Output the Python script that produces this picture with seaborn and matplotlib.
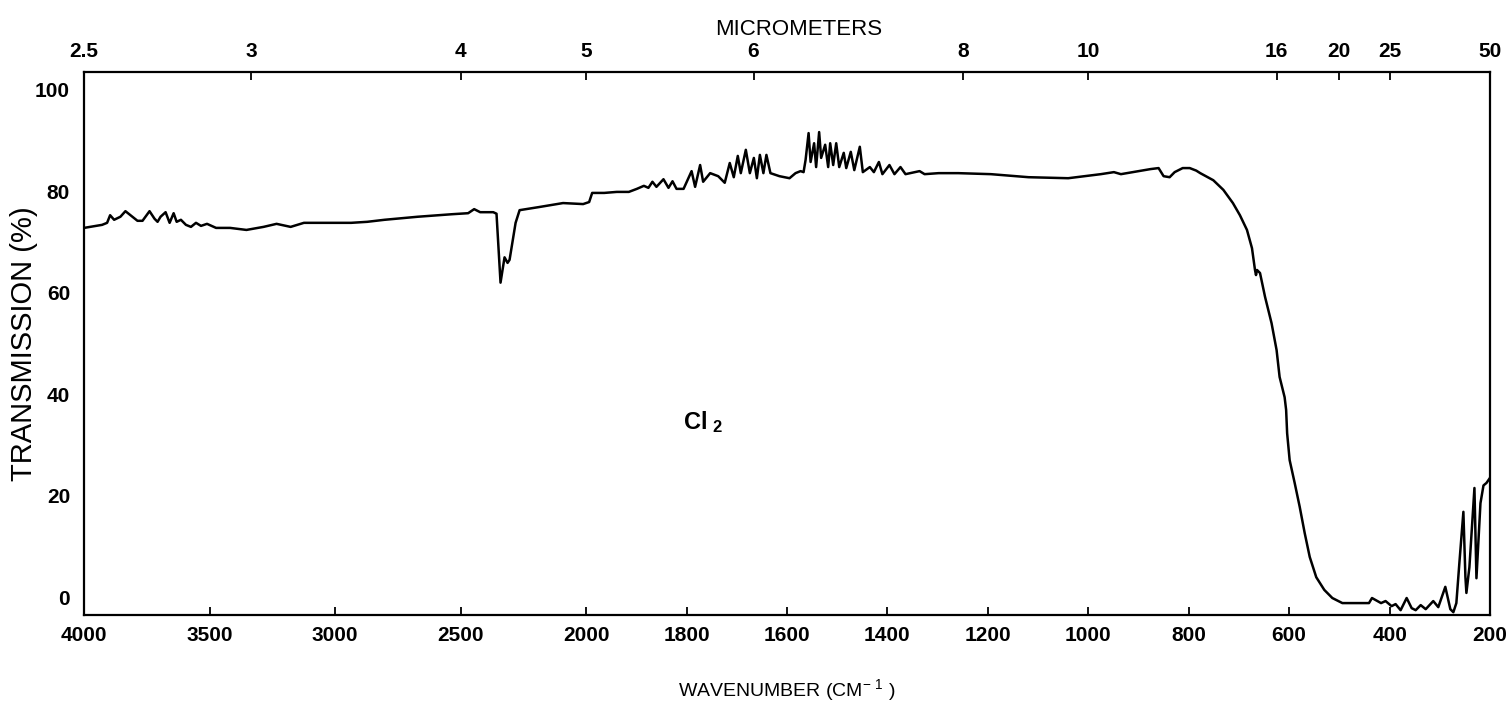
import numpy as np
import pandas as pd
import matplotlib
matplotlib.use("Agg")
import matplotlib.pyplot as plt
import seaborn as sns

# ---------------- data ----------------
wavenumber = [4000, 3976, 3928, 3908, 3896, 3880, 3855, 3835, 3807, 3787, 3767, 3739,
              3719, 3707, 3695, 3675, 3659, 3643, 3631, 3614, 3594, 3574, 3554, 3534,
              3510, 3474, 3418, 3353, 3285, 3233, 3177, 3124, 3016, 2936, 2872, 2803,
              2671, 2534, 2470, 2446, 2422, 2370, 2357, 2341, 2325, 2313, 2305, 2281,
              2265, 2189, 2092, 2012, 1994, 1988, 1964, 1939, 1915, 1899, 1885, 1876,
              1868, 1860, 1846, 1836, 1828, 1820, 1806, 1790, 1783, 1773, 1767, 1753,
              1737, 1724, 1714, 1706, 1698, 1692, 1682, 1674, 1666, 1660, 1654, 1647,
              1641, 1633, 1615, 1595, 1583, 1573, 1567, 1563, 1557, 1553, 1546, 1542,
              1536, 1532, 1524, 1518, 1514, 1508, 1502, 1496, 1487, 1482, 1473, 1466,
              1455, 1449, 1435, 1427, 1417, 1410, 1396, 1386, 1374, 1364, 1336, 1326,
              1298, 1259, 1194, 1119, 1040, 975, 949, 935, 876, 860, 850, 838, 828, 812,
              798, 785, 777, 751, 731, 712, 698, 684, 674, 668, 666, 664, 658, 648, 635,
              625, 619, 609, 606, 604, 599, 589, 579, 569, 559, 546, 530, 514, 494, 467,
              441, 435, 417, 408, 396, 388, 378, 366, 356, 348, 338, 328, 313, 303, 289,
              279, 273, 267, 261, 253, 249, 247, 241, 231, 227, 219, 213, 207, 200]
transmission = [72.8, 73.0, 73.4, 73.8, 75.3, 74.4, 75.0, 76.1, 75.0, 74.2, 74.2, 76.1,
                74.6, 74.0, 75.0, 75.9, 73.8, 75.7, 74.0, 74.4, 73.4, 73.0, 73.8, 73.2,
                73.6, 72.8, 72.8, 72.4, 73.0, 73.6, 73.0, 73.8, 73.8, 73.8, 74.0, 74.4,
                75.0, 75.5, 75.7, 76.5, 75.9, 75.9, 75.6, 62.0, 67.0, 65.9, 66.5, 73.8,
                76.3, 76.9, 77.7, 77.5, 77.9, 79.7, 79.7, 79.9, 79.9, 80.5, 81.1, 80.7,
                81.9, 80.9, 82.4, 80.7, 82.0, 80.5, 80.5, 84.0, 80.9, 85.2, 81.9, 83.6,
                83.0, 81.7, 85.6, 82.8, 87.0, 83.6, 88.2, 83.6, 86.6, 82.6, 87.2, 83.6,
                87.2, 83.6, 83.0, 82.6, 83.6, 84.0, 83.8, 86.2, 91.5, 85.8, 89.5, 84.8,
                91.7, 86.6, 89.2, 84.8, 89.5, 85.2, 89.5, 84.8, 87.6, 84.6, 87.8, 84.2,
                88.8, 83.8, 84.8, 83.8, 85.8, 83.4, 85.2, 83.4, 84.8, 83.4, 84.0, 83.4,
                83.6, 83.6, 83.4, 82.8, 82.6, 83.4, 83.8, 83.4, 84.4, 84.6, 83.0, 82.8,
                83.8, 84.6, 84.6, 84.1, 83.6, 82.2, 80.3, 77.7, 75.3, 72.4, 68.8, 64.5,
                63.5, 64.5, 63.9, 59.2, 54.0, 48.7, 43.4, 39.4, 36.9, 32.3, 27.0, 22.5,
                17.8, 12.6, 7.9, 3.9, 1.4, -0.2, -1.2, -1.2, -1.2, -0.2, -1.2, -0.8, -1.8,
                -1.4, -2.6, -0.2, -2.2, -2.6, -1.6, -2.4, -0.8, -2.0, 2.0, -2.4, -3.0,
                -1.2, 6.7, 16.8, 4.0, 0.8, 5.9, 21.5, 3.7, 18.5, 22.0, 22.5, 23.5]

bottom_ticks = [4000, 3500, 3000, 2500, 2000, 1800, 1600, 1400, 1200, 1000, 800, 600, 400, 200]
top_um = [2.5, 3, 4, 5, 6, 8, 10, 16, 20, 25, 50]
top_labels = ["2.5", "3", "4", "5", "6", "8", "10", "16", "20", "25", "50"]
y_ticks = [0, 20, 40, 60, 80, 100]

df = pd.DataFrame({"wavenumber": wavenumber, "transmission": transmission})

# ---------------- style ----------------
sns.set_style("white")
plt.rcParams["font.family"] = ["Liberation Sans", "DejaVu Sans"]
plt.rcParams["mathtext.fontset"] = "custom"
plt.rcParams["mathtext.rm"] = "Liberation Sans"
plt.rcParams["mathtext.bf"] = "Liberation Sans:bold"
plt.rcParams["mathtext.default"] = "regular"


# piecewise IR scale: 2x expansion below 2000 cm-1
def fwd(w):
    w = np.asarray(w, dtype=float)
    return np.where(w <= 2000, w, 2000 + (w - 2000) / 2.0)


def inv(v):
    v = np.asarray(v, dtype=float)
    return np.where(v <= 2000, v, 2000 + (v - 2000) * 2.0)


fig = plt.figure(figsize=(15.09, 7.02), dpi=100)
ax = fig.add_axes([84 / 1509, 1 - 615 / 702, (1490 - 84) / 1509, (615 - 72) / 702])
ax.set_xscale("function", functions=(fwd, inv))

sns.lineplot(data=df, x="wavenumber", y="transmission", ax=ax, sort=False,
             estimator=None, color="black", linewidth=1.8)

ax.set_xlim(4000, 200)
ax.set_ylim(-3.55, 103.55)
ax.set_xticks(bottom_ticks)
ax.set_xticklabels([str(t) for t in bottom_ticks])
ax.set_yticks(y_ticks)
ax.set_yticklabels([str(t) for t in y_ticks])
ax.minorticks_off()

for s in ax.spines.values():
    s.set_color("black")
    s.set_linewidth(1.6)

ax.tick_params(axis="x", direction="in", length=6, width=1.3, labelsize=15, pad=8,
               colors="black")
ax.tick_params(axis="y", direction="in", length=5, width=1.1, labelsize=15, pad=10,
               colors="black")
for lbl in ax.get_xticklabels() + ax.get_yticklabels():
    lbl.set_fontweight("bold")

ax.set_xlabel("WAVENUMBER (CM$^{-\\ 1}$ )", fontsize=14, labelpad=23, color="black")
ax.set_ylabel("TRANSMISSION (%)", fontsize=21, labelpad=-2, color="black")

# top micrometer axis
ax2 = ax.twiny()
ax2.set_xscale("function", functions=(fwd, inv))
ax2.set_xlim(4000, 200)
ax2.set_xticks([10000.0 / u for u in top_um])
ax2.set_xticklabels(top_labels)
ax2.minorticks_off()
ax2.tick_params(axis="x", direction="in", length=6, width=1.3, labelsize=15, pad=8,
                colors="black")
for lbl in ax2.get_xticklabels():
    lbl.set_fontweight("bold")
ax2.set_xlabel("MICROMETERS", fontsize=16, labelpad=5, color="black")
ax2.xaxis.label.set_x(0.508)
for s in ax2.spines.values():
    s.set_visible(False)

ax.text(1808, 34.5, r"$\mathbf{Cl}_{\mathbf{\ 2}}$", fontsize=17, ha="left",
        va="center", color="black")

fig.savefig("out.png", dpi=100, facecolor="white")
